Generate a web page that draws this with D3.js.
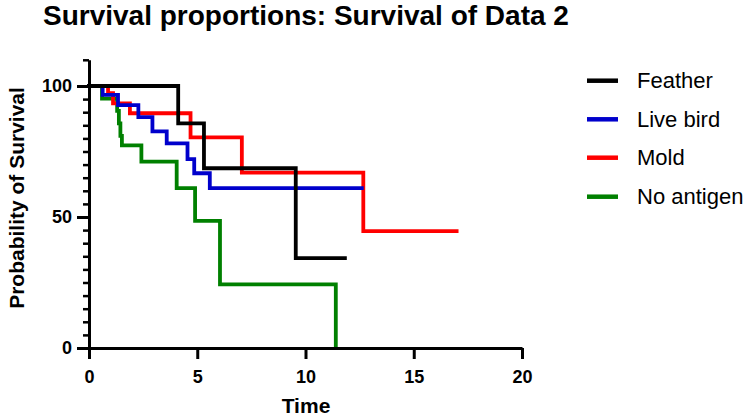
<!DOCTYPE html>
<html>
<head>
<meta charset="utf-8">
<script src="https://cdn.jsdelivr.net/npm/d3@7"></script>
<style>
  html, body { margin: 0; padding: 0; background: #fff; }
  svg { display: block; font-family: "Liberation Sans", Arial, Helvetica, sans-serif; }
</style>
</head>
<body>
<svg id="chart" width="750" height="419"></svg>
<script>
// ---- data ----
const seriesNames = ["Feather", "Live bird", "Mold", "No antigen"];
const featherTime = [0, 4.12, 5.31, 9.55, 11.82];
const featherSurv = [100, 85.7, 68.6, 34.3, 34.3];
const liveBirdTime = [0, 0.63, 1.34, 2.28, 2.93, 3.59, 4.55, 4.86, 5.58, 12.6];
const liveBirdSurv = [100, 96.6, 92.7, 88.1, 82.7, 78.1, 72.1, 66.7, 61.0, 61.0];
const moldTime = [0, 0.88, 1.11, 1.89, 4.69, 7.06, 12.67, 16.98];
const moldSurv = [100, 97.3, 93.4, 89.6, 80.4, 66.9, 44.6, 44.6];
const noAntigenTime = [0, 0.6, 1.3, 1.38, 1.45, 1.52, 2.42, 4.05, 4.9, 6.05, 11.4];
const noAntigenSurv = [100, 95.2, 90.5, 85.7, 81.0, 77.3, 71.1, 61.0, 48.5, 24.3, 0];
const xTicks = [0, 5, 10, 15, 20];
const yTicks = [0, 50, 100];
const yMinorTicks = [5,10,15,20,25,30,35,40,45,55,60,65,70,75,80,85,90,95,110];
const colors = ["#000000", "#0000CC", "#FF0000", "#008000"];

const series = [
  { name: seriesNames[0], t: featherTime, s: featherSurv, c: colors[0] },
  { name: seriesNames[1], t: liveBirdTime, s: liveBirdSurv, c: colors[1] },
  { name: seriesNames[2], t: moldTime, s: moldSurv, c: colors[2] },
  { name: seriesNames[3], t: noAntigenTime, s: noAntigenSurv, c: colors[3] }
];

const svg = d3.select("#chart");
const x = d3.scaleLinear().domain([0, 20]).range([89, 522]);
const y = d3.scaleLinear().domain([0, 110]).range([348, 348 - 110 * 2.62]);

// title
svg.append("text").attr("x", 43).attr("y", 25)
  .attr("font-size", 28).attr("font-weight", "bold").attr("fill", "#000")
  .text("Survival proportions: Survival of Data 2");

// curves (draw green, red, blue, black so black is on top)
const line = d3.line().x(d => x(d[0])).y(d => y(d[1])).curve(d3.curveStepAfter);
const order = [3, 2, 1, 0];
order.forEach(i => {
  const sr = series[i];
  const pts = sr.t.map((t, k) => [t, sr.s[k]]);
  svg.append("path").attr("d", line(pts))
    .attr("fill", "none").attr("stroke", sr.c).attr("stroke-width", 3.8)
    .attr("stroke-linejoin", "miter").attr("stroke-linecap", "square");
});

// x axis
const gx = svg.append("g").attr("transform", "translate(0,348)")
  .call(d3.axisBottom(x).tickValues(xTicks).tickSize(11).tickSizeOuter(0).tickPadding(11).tickFormat(d3.format("d")));
gx.select(".domain").attr("stroke", "#000").attr("stroke-width", 3);
gx.selectAll(".tick line").attr("stroke", "#000").attr("stroke-width", 3);
gx.selectAll(".tick text").attr("font-size", 18).attr("font-weight", "bold").attr("fill", "#000")
  .attr("font-family", "Liberation Sans, Arial, sans-serif");

// y axis minor ticks
const gym = svg.append("g").attr("transform", "translate(89,0)")
  .call(d3.axisLeft(y).tickValues(yMinorTicks).tickSize(6).tickSizeOuter(0).tickFormat(""));
gym.select(".domain").remove();
gym.selectAll(".tick line").attr("stroke", "#000").attr("stroke-width", 2.5);

// y axis
const gy = svg.append("g").attr("transform", "translate(89,0)")
  .call(d3.axisLeft(y).tickValues(yTicks).tickSize(12).tickSizeOuter(0).tickPadding(5));
gy.select(".domain").attr("stroke", "#000").attr("stroke-width", 3);
gy.selectAll(".tick line").attr("stroke", "#000").attr("stroke-width", 3);
gy.selectAll(".tick text").attr("font-size", 18).attr("font-weight", "bold").attr("fill", "#000")
  .attr("font-family", "Liberation Sans, Arial, sans-serif");

// axis titles
svg.append("text").attr("x", 306).attr("y", 413).attr("text-anchor", "middle")
  .attr("font-size", 21).attr("font-weight", "bold").text("Time");
svg.append("text").attr("transform", "translate(24,198) rotate(-90)").attr("text-anchor", "middle")
  .attr("font-size", 21).attr("font-weight", "bold").text("Probability of Survival");

// legend
const legendY = [80.7, 119.3, 157.7, 196.7];
series.forEach((sr, i) => {
  const g = svg.append("g");
  g.append("line").attr("x1", 587).attr("x2", 618).attr("y1", legendY[i]).attr("y2", legendY[i])
    .attr("stroke", sr.c).attr("stroke-width", 4.5);
  g.append("text").attr("x", 637).attr("y", legendY[i] + 7.5)
    .attr("font-size", 22).attr("fill", "#000").text(sr.name);
});
</script>
</body>
</html>
